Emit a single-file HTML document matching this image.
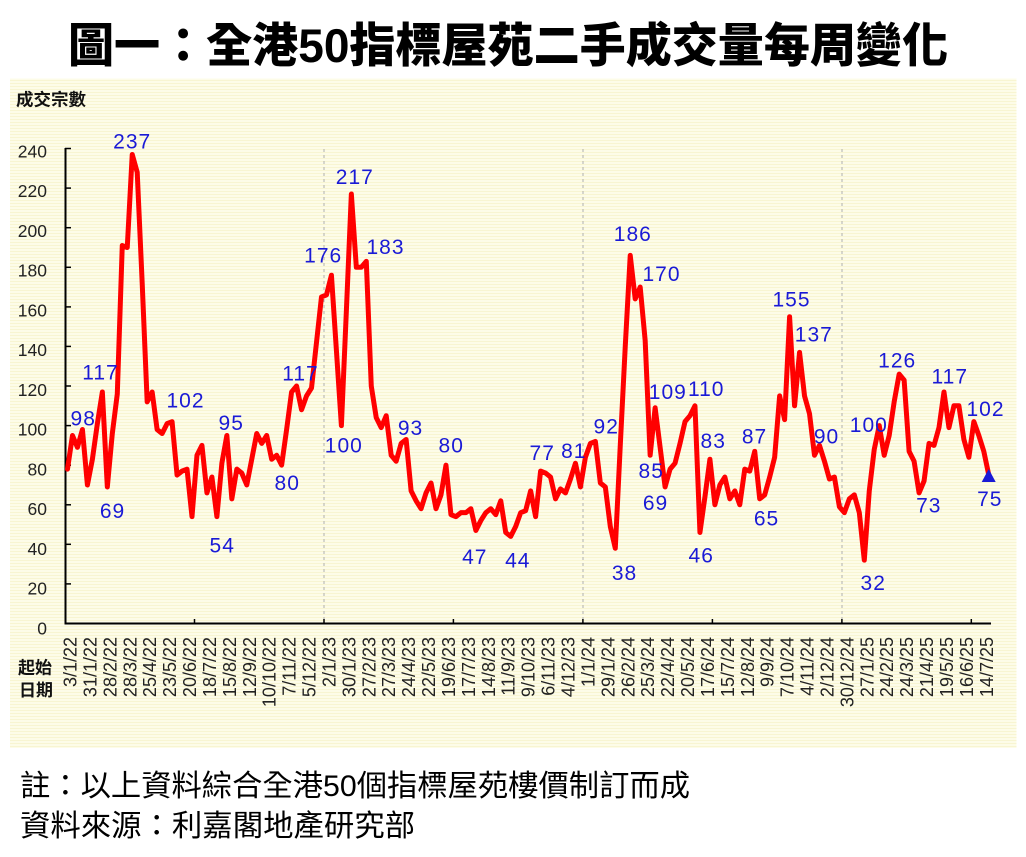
<!DOCTYPE html>
<html>
<head>
<meta charset="utf-8">
<style>
html,body{margin:0;padding:0;background:#fff;}
svg{display:block;}
</style>
</head>
<body>
<svg width="1026" height="857" viewBox="0 0 1026 857" xmlns="http://www.w3.org/2000/svg">
  <defs>
    <pattern id="stripes" x="0" y="0" width="8" height="3" patternUnits="userSpaceOnUse">
      <rect x="0" y="0" width="8" height="3" fill="#fdfce8"/>
      <rect x="0" y="2" width="8" height="1" fill="#f8f5d2"/>
    </pattern>
  </defs>

  <!-- Title -->
  <text x="68" y="62" font-family="'Liberation Sans','Noto Sans CJK TC',sans-serif" font-size="47" font-weight="900" fill="#000" textLength="880" lengthAdjust="spacingAndGlyphs">圖一：全港50指標屋苑二手成交量每周變化</text>

  <!-- Chart background -->
  <rect x="10" y="78.5" width="1006.5" height="669.5" fill="url(#stripes)"/>

  <!-- Y axis title -->
  <text x="16" y="105.5" font-family="'Liberation Sans','Noto Sans CJK TC',sans-serif" font-size="17" font-weight="bold" fill="#111" textLength="70" lengthAdjust="spacingAndGlyphs">成交宗數</text>

  <!-- Dashed year separators -->
  <g stroke="#b0b0b0" stroke-width="1" stroke-dasharray="3,3">
    <line x1="324" y1="149" x2="324" y2="622"/>
    <line x1="583" y1="149" x2="583" y2="622"/>
    <line x1="842" y1="149" x2="842" y2="622"/>
  </g>

  <!-- Axes -->
  <g stroke="#000" stroke-width="2" fill="none">
    <line x1="65.5" y1="148" x2="65.5" y2="624.5"/>
    <line x1="64.5" y1="623.5" x2="991" y2="623.5"/>
  </g>
  <!-- Y ticks -->
  <g stroke="#000" stroke-width="1.5">
    <line x1="65" y1="148.5" x2="71" y2="148.5"/>
    <line x1="65" y1="188.1" x2="71" y2="188.1"/>
    <line x1="65" y1="227.7" x2="71" y2="227.7"/>
    <line x1="65" y1="267.3" x2="71" y2="267.3"/>
    <line x1="65" y1="306.9" x2="71" y2="306.9"/>
    <line x1="65" y1="346.4" x2="71" y2="346.4"/>
    <line x1="65" y1="386" x2="71" y2="386"/>
    <line x1="65" y1="425.6" x2="71" y2="425.6"/>
    <line x1="65" y1="465.2" x2="71" y2="465.2"/>
    <line x1="65" y1="504.8" x2="71" y2="504.8"/>
    <line x1="65" y1="544.3" x2="71" y2="544.3"/>
    <line x1="65" y1="583.9" x2="71" y2="583.9"/>
  </g>
  <!-- X ticks -->
  <g stroke="#000" stroke-width="1.5">
    <line x1="194.5" y1="619" x2="194.5" y2="623"/>
    <line x1="324" y1="619" x2="324" y2="623"/>
    <line x1="453.4" y1="619" x2="453.4" y2="623"/>
    <line x1="582.9" y1="619" x2="582.9" y2="623"/>
    <line x1="712.4" y1="619" x2="712.4" y2="623"/>
    <line x1="841.9" y1="619" x2="841.9" y2="623"/>
    <line x1="971.3" y1="619" x2="971.3" y2="623"/>
  </g>

  <!-- Y tick labels -->
  <g font-family="'Liberation Sans',sans-serif" font-size="17.5" fill="#222" text-anchor="end">
    <text x="47" y="157.3">240</text>
    <text x="47" y="197">220</text>
    <text x="47" y="236.8">200</text>
    <text x="47" y="276.5">180</text>
    <text x="47" y="316.3">160</text>
    <text x="47" y="356">140</text>
    <text x="47" y="395.8">120</text>
    <text x="47" y="435.5">100</text>
    <text x="47" y="475.3">80</text>
    <text x="47" y="515">60</text>
    <text x="47" y="554.8">40</text>
    <text x="47" y="594.5">20</text>
    <text x="47" y="634.3">0</text>
  </g>

  <!-- 起始 日期 -->
  <g font-family="'Liberation Sans','Noto Sans CJK TC',sans-serif" font-size="17" font-weight="bold" fill="#111">
    <text x="18" y="673.5">起始</text>
    <text x="19" y="696">日期</text>
  </g>

  <!-- X labels (rotated) -->
  <g font-family="'Liberation Sans',sans-serif" font-size="18" fill="#222" text-anchor="end">
    <text transform="translate(76.5,637) rotate(-90)">3/1/22</text>
    <text transform="translate(96.4,637) rotate(-90)">31/1/22</text>
    <text transform="translate(116.3,637) rotate(-90)">28/2/22</text>
    <text transform="translate(136.3,637) rotate(-90)">28/3/22</text>
    <text transform="translate(156.2,637) rotate(-90)">25/4/22</text>
    <text transform="translate(176.1,637) rotate(-90)">23/5/22</text>
    <text transform="translate(196,637) rotate(-90)">20/6/22</text>
    <text transform="translate(215.9,637) rotate(-90)">18/7/22</text>
    <text transform="translate(235.9,637) rotate(-90)">15/8/22</text>
    <text transform="translate(255.8,637) rotate(-90)">12/9/22</text>
    <text transform="translate(275.7,637) rotate(-90)">10/10/22</text>
    <text transform="translate(295.6,637) rotate(-90)">7/11/22</text>
    <text transform="translate(315.5,637) rotate(-90)">5/12/22</text>
    <text transform="translate(335.5,637) rotate(-90)">2/1/23</text>
    <text transform="translate(355.4,637) rotate(-90)">30/1/23</text>
    <text transform="translate(375.3,637) rotate(-90)">27/2/23</text>
    <text transform="translate(395.2,637) rotate(-90)">27/3/23</text>
    <text transform="translate(415.1,637) rotate(-90)">24/4/23</text>
    <text transform="translate(435.1,637) rotate(-90)">22/5/23</text>
    <text transform="translate(455,637) rotate(-90)">19/6/23</text>
    <text transform="translate(474.9,637) rotate(-90)">17/7/23</text>
    <text transform="translate(494.8,637) rotate(-90)">14/8/23</text>
    <text transform="translate(514.7,637) rotate(-90)">11/9/23</text>
    <text transform="translate(534.7,637) rotate(-90)">9/10/23</text>
    <text transform="translate(554.6,637) rotate(-90)">6/11/23</text>
    <text transform="translate(574.5,637) rotate(-90)">4/12/23</text>
    <text transform="translate(594.4,637) rotate(-90)">1/1/24</text>
    <text transform="translate(614.3,637) rotate(-90)">29/1/24</text>
    <text transform="translate(634.3,637) rotate(-90)">26/2/24</text>
    <text transform="translate(654.2,637) rotate(-90)">25/3/24</text>
    <text transform="translate(674.1,637) rotate(-90)">22/4/24</text>
    <text transform="translate(694,637) rotate(-90)">20/5/24</text>
    <text transform="translate(713.9,637) rotate(-90)">17/6/24</text>
    <text transform="translate(733.9,637) rotate(-90)">15/7/24</text>
    <text transform="translate(753.8,637) rotate(-90)">12/8/24</text>
    <text transform="translate(773.7,637) rotate(-90)">9/9/24</text>
    <text transform="translate(793.6,637) rotate(-90)">7/10/24</text>
    <text transform="translate(813.5,637) rotate(-90)">4/11/24</text>
    <text transform="translate(833.5,637) rotate(-90)">2/12/24</text>
    <text transform="translate(853.4,637) rotate(-90)">30/12/24</text>
    <text transform="translate(873.3,637) rotate(-90)">27/1/25</text>
    <text transform="translate(893.2,637) rotate(-90)">24/2/25</text>
    <text transform="translate(913.1,637) rotate(-90)">24/3/25</text>
    <text transform="translate(933.1,637) rotate(-90)">21/4/25</text>
    <text transform="translate(953,637) rotate(-90)">19/5/25</text>
    <text transform="translate(972.9,637) rotate(-90)">16/6/25</text>
    <text transform="translate(992.8,637) rotate(-90)">14/7/25</text>
  </g>

  <!-- Data line -->
  <polyline transform="matrix(4.98 0 0 -1.979 67.49 623.5)" vector-effect="non-scaling-stroke" fill="none" stroke="#ff0000" stroke-width="5" stroke-linejoin="round" stroke-linecap="round"
    points="0,78 1,95 2,89 3,98 4,70 5,83 6,101 7,117 8,69 9,96 10,116 11,191 12,190 13,237 14,228 15,172 16,112 17,117 18,98 19,96 20,101 21,102 22,75 23,77 24,78 25,54 26,85 27,90 28,66 29,74 30,54 31,81 32,95 33,63 34,78 35,76 36,70 37,83 38,96 39,91 40,95 41,83 42,85 43,80 44,98 45,117 46,120 47,108 48,115 49,119 50,142 51,165 52,166 53,176 54,138 55,100 56,158 57,217 58,180 59,180 60,183 61,120 62,104 63,99 64,105 65,85 66,82 67,91 68,93 69,67 70,62 71,58 72,66 73,71 74,58 75,65 76,80 77,55 78,54 79,56 80,56 81,58 82,47 83,52 84,56 85,58 86,55 87,62 88,46 89,44 90,49 91,56 92,57 93,67 94,54 95,77 96,76 97,74 98,63 99,68 100,66 101,73 102,81 103,69 104,84 105,91 106,92 107,71 108,69 109,49 110,38 111,90 112,140 113,186 114,164 115,170 116,143 117,85 118,109 119,89 120,69 121,78 122,81 123,91 124,102 125,105 126,110 127,46 128,64 129,83 130,60 131,70 132,74 133,63 134,67 135,60 136,78 137,77 138,87 139,63 140,65 141,74 142,84 143,115 144,103 145,155 146,110 147,137 148,115 149,106 150,85 151,90 152,82 153,73 154,74 155,59 156,56 157,63 158,65 159,56 160,32 161,67 162,88 163,100 164,85 165,95 166,112 167,126 168,123 169,87 170,82 171,66 172,72 173,91 174,90 175,99 176,117 177,99 178,110 179,110 180,93 181,84 182,102 183,95 184,87 185,75"/>

  <!-- End marker -->
  <polygon points="988.7,469 981.7,482 995.7,482" fill="#1a1ad6"/>

  <!-- Data labels -->
  <g font-family="'Liberation Sans',sans-serif" font-size="21" fill="#1a1ad6" text-anchor="middle" letter-spacing="1">
    <text x="83.2" y="425.5">98</text>
    <text x="100.5" y="379.5">117</text>
    <text x="112.5" y="518">69</text>
    <text x="132.2" y="148.5">237</text>
    <text x="185.5" y="407.5">102</text>
    <text x="231.2" y="430">95</text>
    <text x="222.2" y="552.5">54</text>
    <text x="287.2" y="490">80</text>
    <text x="300.5" y="380.5">117</text>
    <text x="323.2" y="262.5">176</text>
    <text x="354.8" y="184">217</text>
    <text x="385.5" y="254">183</text>
    <text x="343.8" y="452.5">100</text>
    <text x="410.5" y="435">93</text>
    <text x="451.2" y="452.5">80</text>
    <text x="474.8" y="564">47</text>
    <text x="517.8" y="567.5">44</text>
    <text x="542.2" y="460">77</text>
    <text x="573.8" y="458">81</text>
    <text x="606.2" y="433.5">92</text>
    <text x="624.5" y="580">38</text>
    <text x="632.8" y="241">186</text>
    <text x="661.5" y="281">170</text>
    <text x="667.8" y="399">109</text>
    <text x="706.2" y="396">110</text>
    <text x="651.2" y="478">85</text>
    <text x="655.5" y="510">69</text>
    <text x="701.2" y="562.5">46</text>
    <text x="713.2" y="448">83</text>
    <text x="754.5" y="443.5">87</text>
    <text x="766.5" y="525.5">65</text>
    <text x="791.5" y="306.5">155</text>
    <text x="813.8" y="341.5">137</text>
    <text x="826.5" y="443.5">90</text>
    <text x="868.8" y="432">100</text>
    <text x="873.2" y="590">32</text>
    <text x="897.2" y="367.5">126</text>
    <text x="928.8" y="512.5">73</text>
    <text x="949.8" y="383.5">117</text>
    <text x="985.5" y="416">102</text>
    <text x="989.8" y="506">75</text>
  </g>

  <!-- Notes -->
  <g font-family="'Liberation Sans','Noto Sans CJK TC',sans-serif" font-size="30" fill="#000">
    <text x="20" y="796" textLength="670" lengthAdjust="spacingAndGlyphs">註：以上資料綜合全港50個指標屋苑樓價制訂而成</text>
    <text x="20" y="836" textLength="395" lengthAdjust="spacingAndGlyphs">資料來源：利嘉閣地產研究部</text>
  </g>
</svg>
</body>
</html>
